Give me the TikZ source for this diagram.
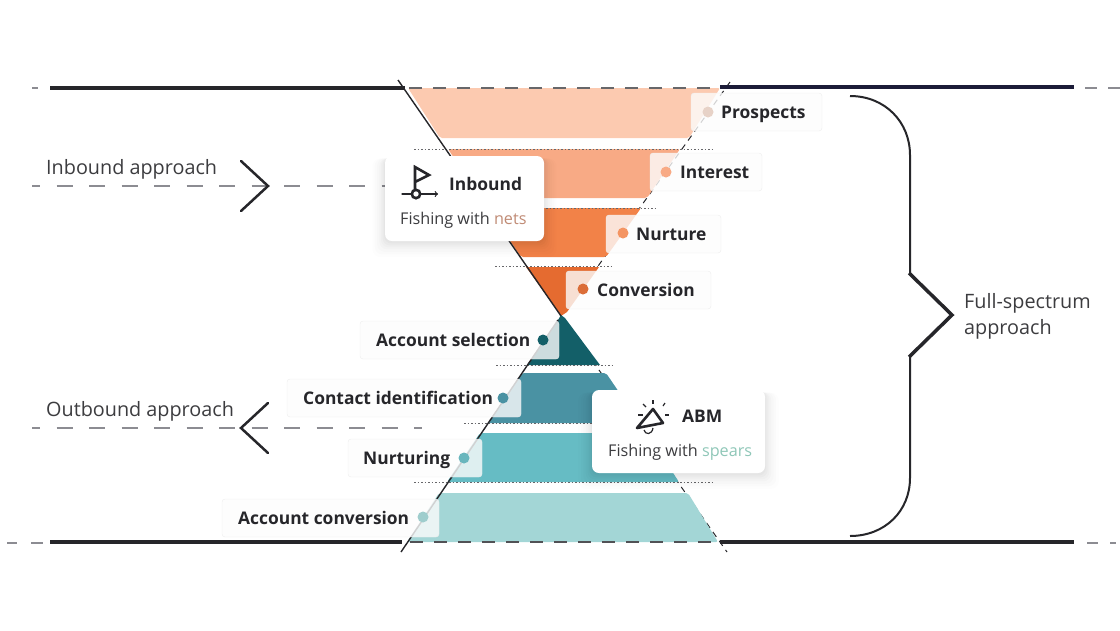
\documentclass[tikz,border=0pt]{standalone}
\usepackage{fontspec}
\setmainfont{Open Sans}
\usepackage{tikz}
\usetikzlibrary{arrows,shadows}

\definecolor{ink}{HTML}{26262A}
\definecolor{navy}{HTML}{1C1C38}
\definecolor{greyline}{HTML}{8C8C92}
\definecolor{bandA}{HTML}{FCCAB0}
\definecolor{bandB}{HTML}{F8AA85}
\definecolor{bandC}{HTML}{F28248}
\definecolor{bandD}{HTML}{E56B30}
\definecolor{bandE}{HTML}{135F68}
\definecolor{bandF}{HTML}{4A92A3}
\definecolor{bandG}{HTML}{66BCC4}
\definecolor{bandH}{HTML}{A3D6D6}
\definecolor{netsred}{HTML}{C08B75}
\definecolor{spearsgreen}{HTML}{8FC7B8}

\tikzset{
  rail/.style={line width=4.5pt},
  guide/.style={greyline,line width=1.5pt,dash pattern=on 16pt off 16.5pt,dash phase=8pt},
  stub/.style={greyline,line width=1.5pt},
  band/.style={rounded corners=2pt},
  dots/.style={ink!70,line width=1pt,dash pattern=on 1.5pt off 2pt},
  chevron/.style={ink,line width=2.5pt,line cap=round},
  tag/.style={draw=black!7,fill=white!99!black,fill opacity=.8,rounded corners=3pt,minimum height=38pt,inner sep=0pt},
  tagtext/.style={anchor=base west,inner sep=0pt,text=ink,font=\fontsize{17.4}{22}\selectfont\bfseries},
  dotmark/.style={circle,minimum size=11pt,inner sep=0pt},
  plain/.style={anchor=base west,inner sep=0pt,text=ink!90,font=\fontsize{19.8}{24}\selectfont},
  card/.style={fill=white,rounded corners=7pt,inner sep=0pt,
    general shadow={fill=black,opacity=.008,shadow scale=1.16,shadow yshift=-8pt},
    general shadow={fill=black,opacity=.01,shadow scale=1.13,shadow yshift=-7pt},
    general shadow={fill=black,opacity=.012,shadow scale=1.10,shadow yshift=-6pt},
    general shadow={fill=black,opacity=.014,shadow scale=1.07,shadow yshift=-5pt},
    general shadow={fill=black,opacity=.016,shadow scale=1.05,shadow yshift=-4pt},
    general shadow={fill=black,opacity=.018,shadow scale=1.03,shadow yshift=-3pt},
    general shadow={fill=black,opacity=.02,shadow scale=1.01,shadow yshift=-2pt}},
  cardhead/.style={anchor=base west,inner sep=0pt,text=ink,font=\fontsize{17.4}{22}\selectfont\bfseries},
  cardtext/.style={anchor=base west,inner sep=0pt,text=ink!90,font=\fontsize{16.2}{20}\selectfont},
  icon/.style={ink,line width=2.6pt}
}

\begin{document}
\begin{tikzpicture}[x=1pt,y=-1pt]
\useasboundingbox (0,0) rectangle (1120,630);

\draw[ink,line width=1pt,dash pattern=on 6pt off 5pt] (730,82) -- (568,308);
\draw[ink,line width=1pt,dash pattern=on 6pt off 5pt] (561,316) -- (727,552);

\fill[band,bandA] (408,88) -- (720,88) -- (689,138) -- (440,138) -- cycle;
\fill[band,bandB] (448,149) -- (680,149) -- (647,198) -- (481,198) -- cycle;
\fill[band,bandC] (488,208) -- (641,208) -- (606,257) -- (521,257) -- cycle;
\fill[bandD] (526,267) -- (599,267) -- (567,312) -- (561,316) -- cycle;
\fill[bandE] (558,320) -- (561,315) -- (565,318) -- (600,365) -- (527,365) -- cycle;
\fill[band,bandF] (522,373) -- (606,373) -- (640,423) -- (488,423) -- cycle;
\fill[band,bandG] (480,433) -- (647,433) -- (679,482) -- (447,482) -- cycle;
\fill[band,bandH] (439,493) -- (688,493) -- (718,542) -- (407,542) -- cycle;

\draw[dots] (414,149) -- (712,149);
\draw[dots] (490,208) -- (657,208);
\draw[dots] (495,266) -- (612,266);
\draw[dots] (496,365) -- (613,365);
\draw[dots] (464,423) -- (640,423);
\draw[dots] (414,482) -- (712,482);

\draw[ink,line width=1.4pt] (398,80) -- (561,316);
\draw[ink,line width=1.4pt] (558,320) -- (401,552);

\draw[rail,ink] (50,88) -- (405,88);
\draw[rail,navy] (720,87) -- (1074,87);
\draw[rail,ink] (50,542) -- (402,542);
\draw[rail,ink] (720,542) -- (1074,542);
\draw[ink!70,line width=1.2pt,dash pattern=on 13pt off 11pt] (409,88) -- (718,88);
\draw[ink!80,line width=1.2pt,dash pattern=on 13pt off 11pt] (410,542) -- (716,542);

\draw[stub] (32,88) -- (38,88);
\draw[stub] (1085,88) -- (1097,88);
\draw[stub] (1108,88) -- (1120,88);
\draw[stub] (7,543) -- (17,543);
\draw[stub] (31,543) -- (43,543);
\draw[stub] (1087,543) -- (1098,543);
\draw[stub] (1110,543) -- (1116,543);

\draw[guide] (32,186) -- (385,186);
\draw[guide] (32,428) -- (422,428);
\draw[chevron] (241,161) -- (268,186) -- (241,211);
\draw[chevron] (268,403) -- (241,428) -- (268,453);

\draw[ink,line width=2pt] (850,96) .. controls (885,96) and (910,122) .. (910,155) -- (910,273);
\draw[ink,line width=2pt] (910,357) -- (910,478) .. controls (910,511) and (885,536) .. (850,536);
\draw[ink,line width=3.5pt] (909,273) -- (952,315) -- (909,357);

\node[plain] (inapp) at (46,174) {Inbound approach};
\node[plain] (outapp) at (46,416) {Outbound approach};
\node[plain] (fulla) at (964,308) {Full-spectrum};
\node[plain] (fullb) at (964,334) {approach};

\node[tag,minimum width=131pt] (P) at (756.5,112) {};
\node[tag,minimum width=112pt] (I) at (706,172) {};
\node[tag,minimum width=115pt] (N) at (663.5,234) {};
\node[tag,minimum width=145pt] (C) at (638.5,290) {};
\node[tag,minimum width=199pt] (AS) at (459.5,340) {};
\node[tag,minimum width=234pt] (CI) at (404,398) {};
\node[tag,minimum width=134pt] (NU) at (415,458) {};
\node[tag,minimum width=217pt] (AC) at (330.5,518) {};

\node[dotmark,fill=bandA!70!gray!60] (Pd) at (708,112) {};
\node[dotmark,fill=bandB] (Id) at (666,172) {};
\node[dotmark,fill=bandC!85!white] (Nd) at (623,233) {};
\node[dotmark,fill=bandD!90!gray] (Cd) at (583,289) {};
\node[dotmark,fill=bandE] (ASd) at (543,340) {};
\node[dotmark,fill=bandF] (CId) at (503,398) {};
\node[dotmark,fill=bandG!90!gray] (NUd) at (464,458) {};
\node[dotmark,fill=bandH!90!gray] (ACd) at (423,517) {};

\node[tagtext] (Pt) at (721,118) {Prospects};
\node[tagtext] (It) at (680,178) {Interest};
\node[tagtext] (Nt) at (636,240) {Nurture};
\node[tagtext] (Ct) at (597,296) {Conversion};
\node[tagtext] (ASt) at (376,346) {Account selection};
\node[tagtext] (CIt) at (303,404) {Contact identification};
\node[tagtext] (NUt) at (363,464) {Nurturing};
\node[tagtext] (ACt) at (238,524) {Account conversion};

\node[card,minimum width=159pt,minimum height=85pt] (IN) at (464.5,198.5) {};
\node[card,minimum width=173pt,minimum height=83pt] (AB) at (678.5,431.5) {};

\draw[icon] (415,194) -- (415,167) -- (429,175) -- (415,182);
\draw[ink,line width=1.2pt,->,>=to,line cap=round] (402,194) -- (438,194);
\draw[icon,fill=white] (416,194) circle (4.2);
\node[cardhead] (INh) at (449,190) {Inbound};
\node[cardtext] (INt) at (400,224) {Fishing with \textcolor{netsred}{nets}};

\draw[icon,line join=round] (637,428) -- (653,409) -- (663,423) -- cycle;
\draw[ink,line width=1.2pt] (644,430) .. controls (645,435) and (652,435) .. (653,428);
\draw[ink,line width=1.2pt] (653,400) -- (653,404);
\draw[ink,line width=1.2pt] (643,404) -- (646,407);
\draw[ink,line width=1.2pt] (665,403) -- (663,406);
\draw[ink,line width=1.2pt] (638,415) -- (643,415);
\draw[ink,line width=1.2pt] (665,415) -- (669,415);
\node[cardhead] (ABh) at (682,422) {ABM};
\node[cardtext] (ABt) at (608,456) {Fishing with \textcolor{spearsgreen}{spears}};
\end{tikzpicture}
\end{document}
